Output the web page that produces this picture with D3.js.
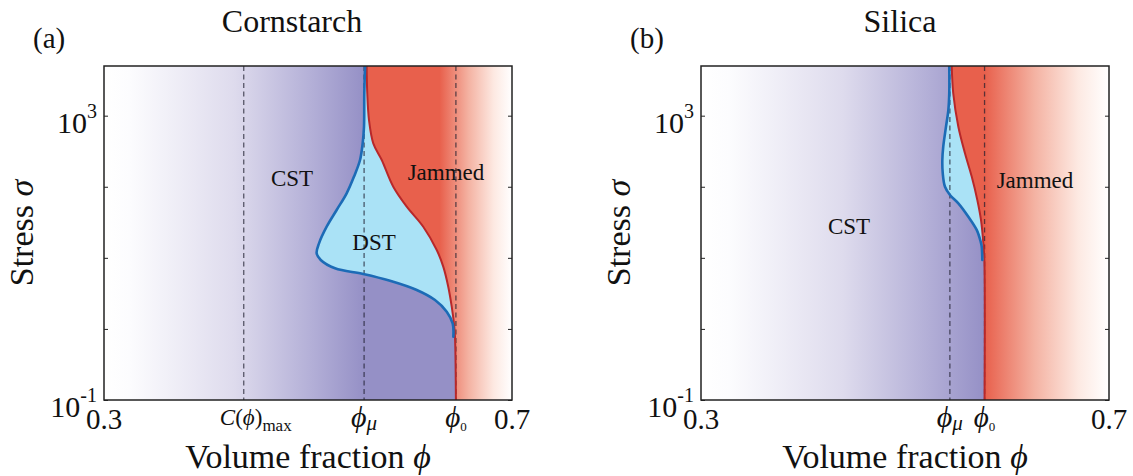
<!DOCTYPE html>
<html>
<head>
<meta charset="utf-8">
<script src="https://cdn.jsdelivr.net/npm/d3@7"></script>
<style>
  body { margin: 0; background: #fff; }
  svg { display: block; }
  text { font-family: "Liberation Serif", "DejaVu Serif", serif; fill: #111; }
</style>
</head>
<body>
<svg id="chart" width="1133" height="476"></svg>
<script>
// axis ranges and ticks
var phiDomain = [0.3, 0.7];
var sigmaDomain = [0.1, 5000];
var sigmaTicks = [0.1, 1, 10, 100, 1000];

// Cornstarch (a)
var csPhiC = 0.437, csPhiMu = 0.555, csPhi0 = 0.645;
var csBluePhi   = [0.556, 0.5552, 0.5549, 0.5536, 0.551, 0.5451, 0.5379, 0.5281, 0.5183, 0.5108, 0.5085, 0.5125, 0.5265, 0.5542, 0.5804, 0.6066, 0.6245, 0.636, 0.6419, 0.6425];
var csBlueSigma = [5000, 2065, 700, 408, 238, 139, 80.9, 47.1, 27.4, 16.0, 11.6, 9.33, 7.13, 5.93, 4.76, 3.53, 2.55, 1.75, 1.19, 0.778];
var csRedPhi    = [0.5575, 0.5581, 0.5598, 0.564, 0.5723, 0.5836, 0.5968, 0.613, 0.6262, 0.6326, 0.6375, 0.6409, 0.6431, 0.6441, 0.645];
var csRedSigma  = [5000, 2065, 869, 408, 238, 100, 52.5, 27.4, 12.9, 7.52, 3.93, 2.06, 1.19, 0.778, 0.1];

// Silica (b)
var siPhiMu = 0.544, siPhi0 = 0.578;
var siBluePhi   = [0.5434, 0.5434, 0.5425, 0.5402, 0.5375, 0.5366, 0.537, 0.5392, 0.5441, 0.5523, 0.5621, 0.5703, 0.5742, 0.5752, 0.5758];
var siBlueSigma = [5000, 2065, 1202, 700, 366, 238, 155, 100, 76.6, 58.5, 37.9, 24.7, 16.9, 14.4, 9.33];
var siRedPhi    = [0.5458, 0.5473, 0.5523, 0.5588, 0.5654, 0.5709, 0.5745, 0.5768, 0.5778, 0.578];
var siRedSigma  = [5000, 2065, 700, 296, 139, 65.2, 34.1, 16.0, 9.33, 0.1];

var svg = d3.select("#chart");
var defs = svg.append("defs");
var top0 = 66, bottom0 = 400;

var panels = [
  {id: "a", left: 104, right: 512, tag: "(a)", title: "Cornstarch", titleX: 292,
   purpleEnd: csPhiMu, redStart: 0.629, vlines: [csPhiC, csPhiMu, csPhi0],
   blue: d3.zip(csBluePhi, csBlueSigma), red: d3.zip(csRedPhi, csRedSigma),
   xlabels: [{v: 0.3, k: "num", s: "0.3"}, {v: csPhiC, k: "C"}, {v: csPhiMu, k: "mu"}, {v: csPhi0, k: "zero"}, {v: 0.7, k: "num", s: "0.7"}],
   regions: [{t: "CST", x: 292, y: 186}, {t: "Jammed", x: 446, y: 180}, {t: "DST", x: 374, y: 250}]},
  {id: "b", left: 701, right: 1109, tag: "(b)", title: "Silica", titleX: 900,
   purpleEnd: siPhi0, redStart: siPhi0, vlines: [siPhiMu, siPhi0],
   blue: d3.zip(siBluePhi, siBlueSigma), red: d3.zip(siRedPhi, siRedSigma),
   xlabels: [{v: 0.3, k: "num", s: "0.3"}, {v: siPhiMu, k: "mu"}, {v: siPhi0, k: "zero"}, {v: 0.7, k: "num", s: "0.7"}],
   regions: [{t: "CST", x: 849, y: 234}, {t: "Jammed", x: 1035, y: 188}]}
];

panels.forEach(function(p) {
  var x = d3.scaleLinear().domain(phiDomain).range([p.left, p.right]);
  var y = d3.scaleLog().domain(sigmaDomain).range([bottom0, top0]);
  var line = d3.line().x(function(d) { return x(d[0]); }).y(function(d) { return y(d[1]); })
    .curve(d3.curveCatmullRom.alpha(0.5));

  // gradients
  var pg = defs.append("linearGradient").attr("id", "purple" + p.id)
    .attr("gradientUnits", "userSpaceOnUse")
    .attr("x1", x(0.3)).attr("x2", x(p.purpleEnd)).attr("y1", 0).attr("y2", 0);
  [[0, "#ffffff"], [0.1, "#fcfcfe"], [0.5, "#dedbed"], [0.8, "#b3afd7"], [1, "#9590c6"]].forEach(function(s) {
    pg.append("stop").attr("offset", s[0]).attr("stop-color", s[1]);
  });
  var rg = defs.append("linearGradient").attr("id", "red" + p.id)
    .attr("gradientUnits", "userSpaceOnUse")
    .attr("x1", x(p.redStart)).attr("x2", x(0.7)).attr("y1", 0).attr("y2", 0);
  [[0, "#e8604c"], [0.4, "#f4b2a2"], [0.75, "#fde9e2"], [1, "#ffffff"]].forEach(function(s) {
    rg.append("stop").attr("offset", s[0]).attr("stop-color", s[1]);
  });
  defs.append("clipPath").attr("id", "clip" + p.id).append("rect")
    .attr("x", p.left).attr("y", top0).attr("width", p.right - p.left).attr("height", bottom0 - top0);

  var g = svg.append("g").attr("clip-path", "url(#clip" + p.id + ")");

  // background CST
  g.append("rect").attr("x", p.left).attr("y", top0)
    .attr("width", p.right - p.left).attr("height", bottom0 - top0)
    .attr("fill", "url(#purple" + p.id + ")");

  // jammed region
  var redPath = line(p.red);
  g.append("path")
    .attr("d", redPath + "L" + x(0.7) + "," + y(0.1) + "L" + x(0.7) + "," + y(5000) + "Z")
    .attr("fill", "url(#red" + p.id + ")");

  // DST region: blue curve down, red curve back up
  var blueEnd = p.blue[p.blue.length - 1][1];
  var redUpper = p.red.filter(function(d) { return d[1] >= blueEnd; }).reverse();
  g.append("path")
    .attr("d", line(p.blue) + "L" + line(redUpper).slice(1) + "Z")
    .attr("fill", "#aae2f6");

  // dashed guide lines
  g.selectAll("line.guide").data(p.vlines).enter().append("line")
    .attr("class", "guide")
    .attr("x1", function(d) { return x(d); }).attr("x2", function(d) { return x(d); })
    .attr("y1", top0).attr("y2", bottom0)
    .attr("stroke", "#1e1e2e").attr("stroke-opacity", 0.7)
    .attr("stroke-width", 1.3).attr("stroke-dasharray", "5,3.5");

  // boundary curves
  g.append("path").attr("d", redPath).attr("fill", "none")
    .attr("stroke", "#b8282a").attr("stroke-width", 2);
  g.append("path").attr("d", line(p.blue)).attr("fill", "none")
    .attr("stroke", "#1c6bb6").attr("stroke-width", 2.6).attr("stroke-linecap", "round");

  // axes (inside ticks both sides)
  svg.append("g").attr("transform", "translate(" + p.left + ",0)")
    .call(d3.axisLeft(y).tickValues(sigmaTicks).tickSize(-4).tickFormat(""))
    .call(function(a) { a.select(".domain").remove(); a.selectAll("line").attr("stroke", "#222"); });
  svg.append("g").attr("transform", "translate(" + p.right + ",0)")
    .call(d3.axisRight(y).tickValues(sigmaTicks).tickSize(-4).tickFormat(""))
    .call(function(a) { a.select(".domain").remove(); a.selectAll("line").attr("stroke", "#222"); });

  svg.append("rect").attr("x", p.left).attr("y", top0)
    .attr("width", p.right - p.left).attr("height", bottom0 - top0)
    .attr("fill", "none").attr("stroke", "#222").attr("stroke-width", 1.5);

  // y tick labels
  [[1000, "3"], [0.1, "-1"]].forEach(function(t) {
    var ty = y(t[0]);
    var tx = svg.append("text").attr("x", p.left - 7).attr("y", ty + 17)
      .attr("text-anchor", "end").attr("font-size", 30);
    tx.append("tspan").text("10");
    tx.append("tspan").attr("dy", -15).attr("font-size", 20).text(t[1]);
  });

  // x tick labels
  p.xlabels.forEach(function(l) {
    var t = svg.append("text").attr("x", x(l.v)).attr("y", 429).attr("text-anchor", "middle");
    if (l.k === "num") {
      t.attr("font-size", 29).text(l.s);
    } else if (l.k === "C") {
      t.attr("x", x(l.v) + 12).attr("y", 425).attr("font-size", 23);
      t.append("tspan").attr("font-style", "italic").text("C");
      t.append("tspan").text("(");
      t.append("tspan").attr("font-style", "italic").text("ϕ");
      t.append("tspan").text(")");
      t.append("tspan").attr("font-size", 17).attr("dy", 6).text("max");
    } else if (l.k === "mu") {
      t.attr("y", 427).attr("font-size", 30);
      t.append("tspan").attr("font-style", "italic").text("ϕ");
      t.append("tspan").attr("font-style", "italic").attr("font-size", 21).attr("dy", 3).text("μ");
    } else {
      t.attr("y", 427).attr("font-size", 29);
      t.append("tspan").attr("font-style", "italic").text("ϕ");
      t.append("tspan").attr("font-size", 13).attr("dy", 4).text("0");
    }
  });

  // axis titles
  var xl = svg.append("text").attr("x", (p.left + p.right) / 2).attr("y", 468)
    .attr("text-anchor", "middle").attr("font-size", 34);
  xl.append("tspan").text("Volume fraction ");
  xl.append("tspan").attr("font-style", "italic").text("ϕ");
  var yl = svg.append("text")
    .attr("transform", "translate(" + (p.left - 71) + "," + ((top0 + bottom0) / 2) + ") rotate(-90)")
    .attr("text-anchor", "middle").attr("font-size", 34);
  yl.append("tspan").text("Stress ");
  yl.append("tspan").attr("font-style", "italic").text("σ");

  // panel tag and title
  svg.append("text").attr("x", p.left - 71).attr("y", 48).attr("font-size", 29).text(p.tag);
  svg.append("text").attr("x", p.titleX).attr("y", 32).attr("text-anchor", "middle")
    .attr("font-size", 32).text(p.title);

  // region labels
  p.regions.forEach(function(r) {
    svg.append("text").attr("x", r.x).attr("y", r.y).attr("text-anchor", "middle")
      .attr("font-size", 23).text(r.t);
  });
});
</script>
</body>
</html>
